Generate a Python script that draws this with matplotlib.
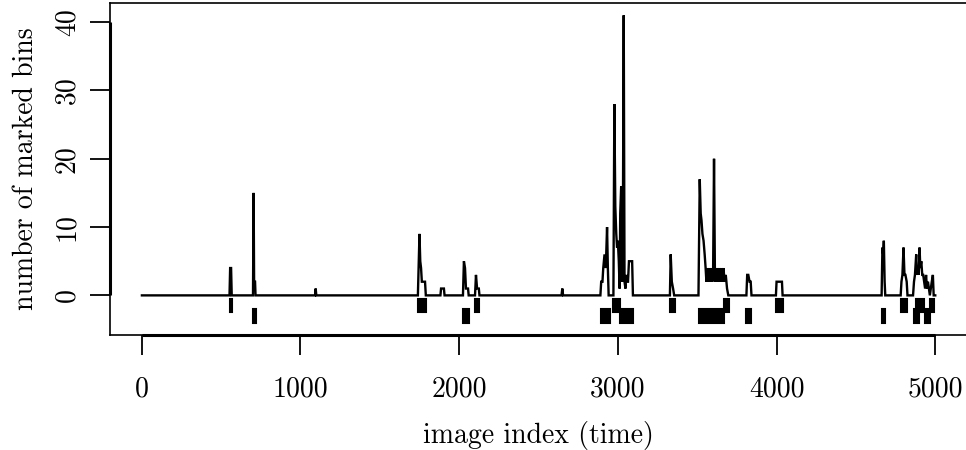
#!/usr/bin/env python3
"""
Number of marked bins per image over time, with detected intervals
drawn as small blocks below the zero line (two alternating rows).
"""

import numpy as np
import matplotlib
matplotlib.use("Agg")
import matplotlib.pyplot as plt


# ---------------------------------------------------------------------
# Data
# ---------------------------------------------------------------------
image_idx = [
    1,
    553, 557, 563, 567,
    701, 705, 708, 714, 717,
    1092, 1096, 1100,
    1740, 1750, 1755, 1760, 1765, 1785, 1790,
    1882, 1886, 1904, 1908,
    2024, 2030, 2037, 2043, 2056, 2060,
    2100, 2106, 2113, 2124, 2128,
    2645, 2650, 2655,
    2890, 2895, 2903, 2908, 2916, 2924, 2932, 2937, 2942,
    2972, 2978, 2984, 2990, 2995, 3000, 3006, 3011, 3015, 3021, 3027,
    3032, 3037, 3042, 3048, 3053, 3058, 3064, 3070, 3090, 3095,
    3328, 3333, 3340, 3348, 3355,
    3508, 3516, 3522, 3527, 3533, 3540, 3547, 3553, 3558, 3564, 3570,
    3576, 3582, 3588, 3594, 3600, 3606, 3612, 3618, 3624, 3630, 3636,
    3642, 3648, 3654, 3660, 3666, 3672, 3680, 3688, 3696,
    3810, 3815, 3822, 3830, 3837, 3842,
    3996, 4000, 4034, 4038,
    4662, 4667, 4672, 4676, 4681, 4685,
    4782, 4787, 4793, 4800, 4806, 4812, 4820, 4825,
    4860, 4866, 4872, 4880, 4885, 4890, 4896, 4901, 4906, 4912, 4918,
    4924, 4930, 4936, 4942, 4948, 4954, 4960, 4966, 4972, 4978, 4985,
    4990, 5000,
]
n_marked = [
    0,
    0, 4, 4, 0,
    0, 15, 2, 2, 0,
    0, 1, 0,
    0, 9, 5, 4, 2, 2, 0,
    0, 1, 1, 0,
    0, 5, 4, 1, 1, 0,
    0, 3, 1, 1, 0,
    0, 1, 0,
    0, 2, 2, 4, 6, 4, 10, 4, 0,
    0, 28, 13, 9, 7, 8, 5, 1, 12, 16, 2,
    12, 41, 2, 1, 3, 2, 2, 5, 5, 0,
    0, 6, 2, 1, 0,
    0, 17, 12, 11, 9, 8, 6, 4, 2, 4, 2,
    4, 2, 4, 2, 3, 20, 2, 4, 2, 4, 2,
    4, 2, 4, 2, 4, 2, 3, 1, 0,
    0, 3, 3, 2, 2, 0,
    0, 2, 2, 0,
    0, 7, 6, 8, 2, 0,
    0, 2, 3, 7, 3, 3, 2, 0,
    0, 2, 3, 6, 3, 4, 3, 7, 4, 5, 3,
    3, 2, 1, 3, 1, 2, 1, 0, 1, 2, 3,
    0, 0,
]

# detected intervals (start, end) and the row they are drawn in
iv_start = [554, 700, 1742, 2027, 2097, 2894, 2970, 3016, 3331, 3510,
            3667, 3810, 3999, 4664, 4783, 4863, 4880, 4937, 4964]
iv_end = [567, 718, 1788, 2060, 2128, 2949, 3012, 3094, 3358, 3671,
          3698, 3841, 4038, 4685, 4825, 4895, 4926, 4964, 4989]
iv_row = [1, 2, 1, 2, 1, 2, 1, 2, 1, 2, 1, 2, 1, 2, 1, 2, 1, 2, 1]

xticks = [0, 1000, 2000, 3000, 4000, 5000]
yticks = [0, 10, 20, 30, 40]


# ---------------------------------------------------------------------
# Plot
# ---------------------------------------------------------------------
plt.rcParams["font.family"] = ["cmr10", "DejaVu Serif"]
plt.rcParams["axes.formatter.use_mathtext"] = True
plt.rcParams["mathtext.fontset"] = "cm"

W, H = 966, 450
fig = plt.figure(figsize=(W / 100, H / 100), dpi=100)
# axes box in pixels: left 110, right 967 (just off the image), top 3, bottom 335
ax = fig.add_axes([110 / W, (H - 335) / H, (967 - 110) / W, (335 - 3) / H])

ax.plot(image_idx, n_marked, color="black", lw=1.7, solid_joinstyle="miter")

# interval blocks: row 1 spans [-2.5, -0.5], row 2 spans [-4, -2]
row_bottom = {1: -2.5, 2: -4.0}
for s, e, r in zip(iv_start, iv_end, iv_row):
    ax.bar(s, 2.0, width=e - s, bottom=row_bottom[r], align="edge",
           color="black", edgecolor="black", linewidth=1.5)

xlo, xhi = -200, 5200
ylo, yhi = -5.8, 42.8
ax.set_xlim(xlo, xhi)
ax.set_ylim(ylo, yhi)
ax.set_xticks(xticks)
ax.set_yticks(yticks)
ax.set_xticklabels([str(v) for v in xticks])
ax.set_yticklabels([str(v) for v in yticks], rotation=90, va="center")

# R-style axis lines: thicker, only from first to last tick
ax.plot([xticks[0], xticks[-1]], [ylo, ylo], color="black", lw=2.2,
        solid_capstyle="butt", clip_on=False, zorder=5)
ax.plot([xlo, xlo], [yticks[0], yticks[-1]], color="black", lw=2.2,
        solid_capstyle="butt", clip_on=False, zorder=5)

fs = 20
ax.tick_params(axis="both", direction="out", length=14.4, width=1.3,
               labelsize=fs, color="black")
ax.tick_params(axis="x", pad=15.5)
ax.tick_params(axis="y", pad=7)
for sp in ax.spines.values():
    sp.set_linewidth(1.2)

ax.set_xlabel("image index (time)", fontsize=fs, labelpad=13)
ax.set_ylabel("number of marked bins", fontsize=fs, labelpad=11)

fig.savefig("out.png", dpi=100)
plt.close(fig)
